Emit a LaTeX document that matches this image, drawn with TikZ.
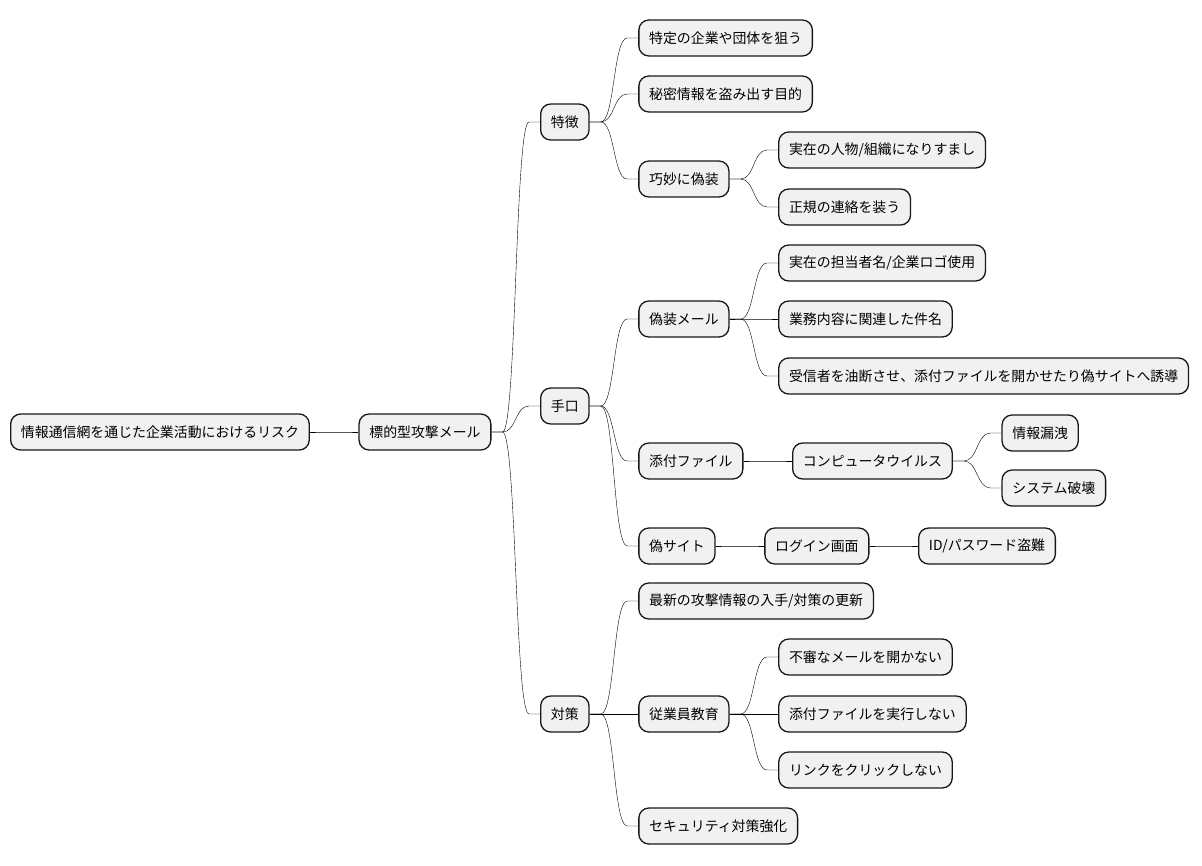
\documentclass[tikz,border=0pt]{standalone}
\usepackage{fontspec}
\setmainfont{Noto Sans CJK JP}
\usepackage{tikz}
\usetikzlibrary{positioning,%
                calc}
\definecolor{boxfill}{HTML}{F1F1F1}
\definecolor{boxline}{HTML}{181818}
\tikzset{Topic/.style={draw = boxline,
                       fill = boxfill,
                       line width = 1.3pt,
                       rounded corners = 10pt,
                       minimum height = 36pt,
                       inner xsep = 10.3pt,
                       inner ysep = 0pt},
         Branch/.style={line width = 1pt,
                        draw = boxline,
                        to path = {-- ++(11,0)
                          .. controls +(14,0) and +(-14,0) .. ($(\tikztotarget)+(-11,0)$)
                          -- (\tikztotarget)}}}

\begin{document}
\begin{tikzpicture}[x = 1pt, y = -1pt, font = \fontsize{13.9}{16}\selectfont]
\useasboundingbox (0,0) rectangle (1202,865);
\tikzstyle{every node} = [node distance = 48.5pt]

\node[Topic, anchor = west] (A0) at (10,432) {情報通信網を通じた企業活動におけるリスク};
\node[Topic, right = of A0] (A1) {標的型攻撃メール};

\node[Topic, right = of A1, yshift = 310pt] (B1) {特徴};
\node[Topic, right = of A1, yshift = 26pt] (B2) {手口};
\node[Topic, right = of A1, yshift = -282pt] (B3) {対策};

\node[Topic, right = of B1, yshift = 84pt] (C1) {特定の企業や団体を狙う};
\node[Topic, right = of B1, yshift = 28pt] (C2) {秘密情報を盗み出す目的};
\node[Topic, right = of B1, yshift = -57pt] (C3) {巧妙に偽装};
\node[Topic, right = of C3, yshift = 29pt] (D1) {実在の人物/組織になりすまし};
\node[Topic, right = of C3, yshift = -28pt] (D2) {正規の連絡を装う};

\node[Topic, right = of B2, yshift = 87pt] (C4) {偽装メール};
\node[Topic, right = of B2, yshift = -55pt] (C5) {添付ファイル};
\node[Topic, right = of B2, yshift = -140pt] (C6) {偽サイト};
\node[Topic, right = of C4, yshift = 56pt] (D3) {実在の担当者名/企業ロゴ使用};
\node[Topic, right = of C4] (D4) {業務内容に関連した件名};
\node[Topic, right = of C4, yshift = -57pt] (D5) {受信者を油断させ、添付ファイルを開かせたり偽サイトへ誘導};
\node[Topic, right = of C5] (D6) {コンピュータウイルス};
\node[Topic, right = of D6, yshift = 28pt] (E1) {情報漏洩};
\node[Topic, right = of D6, yshift = -27pt] (E2) {システム破壊};
\node[Topic, right = of C6] (D7) {ログイン画面};
\node[Topic, right = of D7] (E3) {ID/パスワード盗難};

\node[Topic, right = of B3, yshift = 113pt] (C7) {最新の攻撃情報の入手/対策の更新};
\node[Topic, right = of B3] (C8) {従業員教育};
\node[Topic, right = of B3, yshift = -112pt] (C9) {セキュリティ対策強化};
\node[Topic, right = of C8, yshift = 57pt] (D8) {不審なメールを開かない};
\node[Topic, right = of C8] (D9) {添付ファイルを実行しない};
\node[Topic, right = of C8, yshift = -56pt] (D10) {リンクをクリックしない};

\draw (A0.east) to[Branch] (A1.west);
\draw (A1.east) to[Branch] (B1.west);
\draw (A1.east) to[Branch] (B2.west);
\draw (A1.east) to[Branch] (B3.west);
\draw (B1.east) to[Branch] (C1.west);
\draw (B1.east) to[Branch] (C2.west);
\draw (B1.east) to[Branch] (C3.west);
\draw (C3.east) to[Branch] (D1.west);
\draw (C3.east) to[Branch] (D2.west);
\draw (B2.east) to[Branch] (C4.west);
\draw (B2.east) to[Branch] (C5.west);
\draw (B2.east) to[Branch] (C6.west);
\draw (C4.east) to[Branch] (D3.west);
\draw (C4.east) to[Branch] (D4.west);
\draw (C4.east) to[Branch] (D5.west);
\draw (C5.east) to[Branch] (D6.west);
\draw (D6.east) to[Branch] (E1.west);
\draw (D6.east) to[Branch] (E2.west);
\draw (C6.east) to[Branch] (D7.west);
\draw (D7.east) to[Branch] (E3.west);
\draw (B3.east) to[Branch] (C7.west);
\draw (B3.east) to[Branch] (C8.west);
\draw (B3.east) to[Branch] (C9.west);
\draw (C8.east) to[Branch] (D8.west);
\draw (C8.east) to[Branch] (D9.west);
\draw (C8.east) to[Branch] (D10.west);

\end{tikzpicture}
\end{document}
